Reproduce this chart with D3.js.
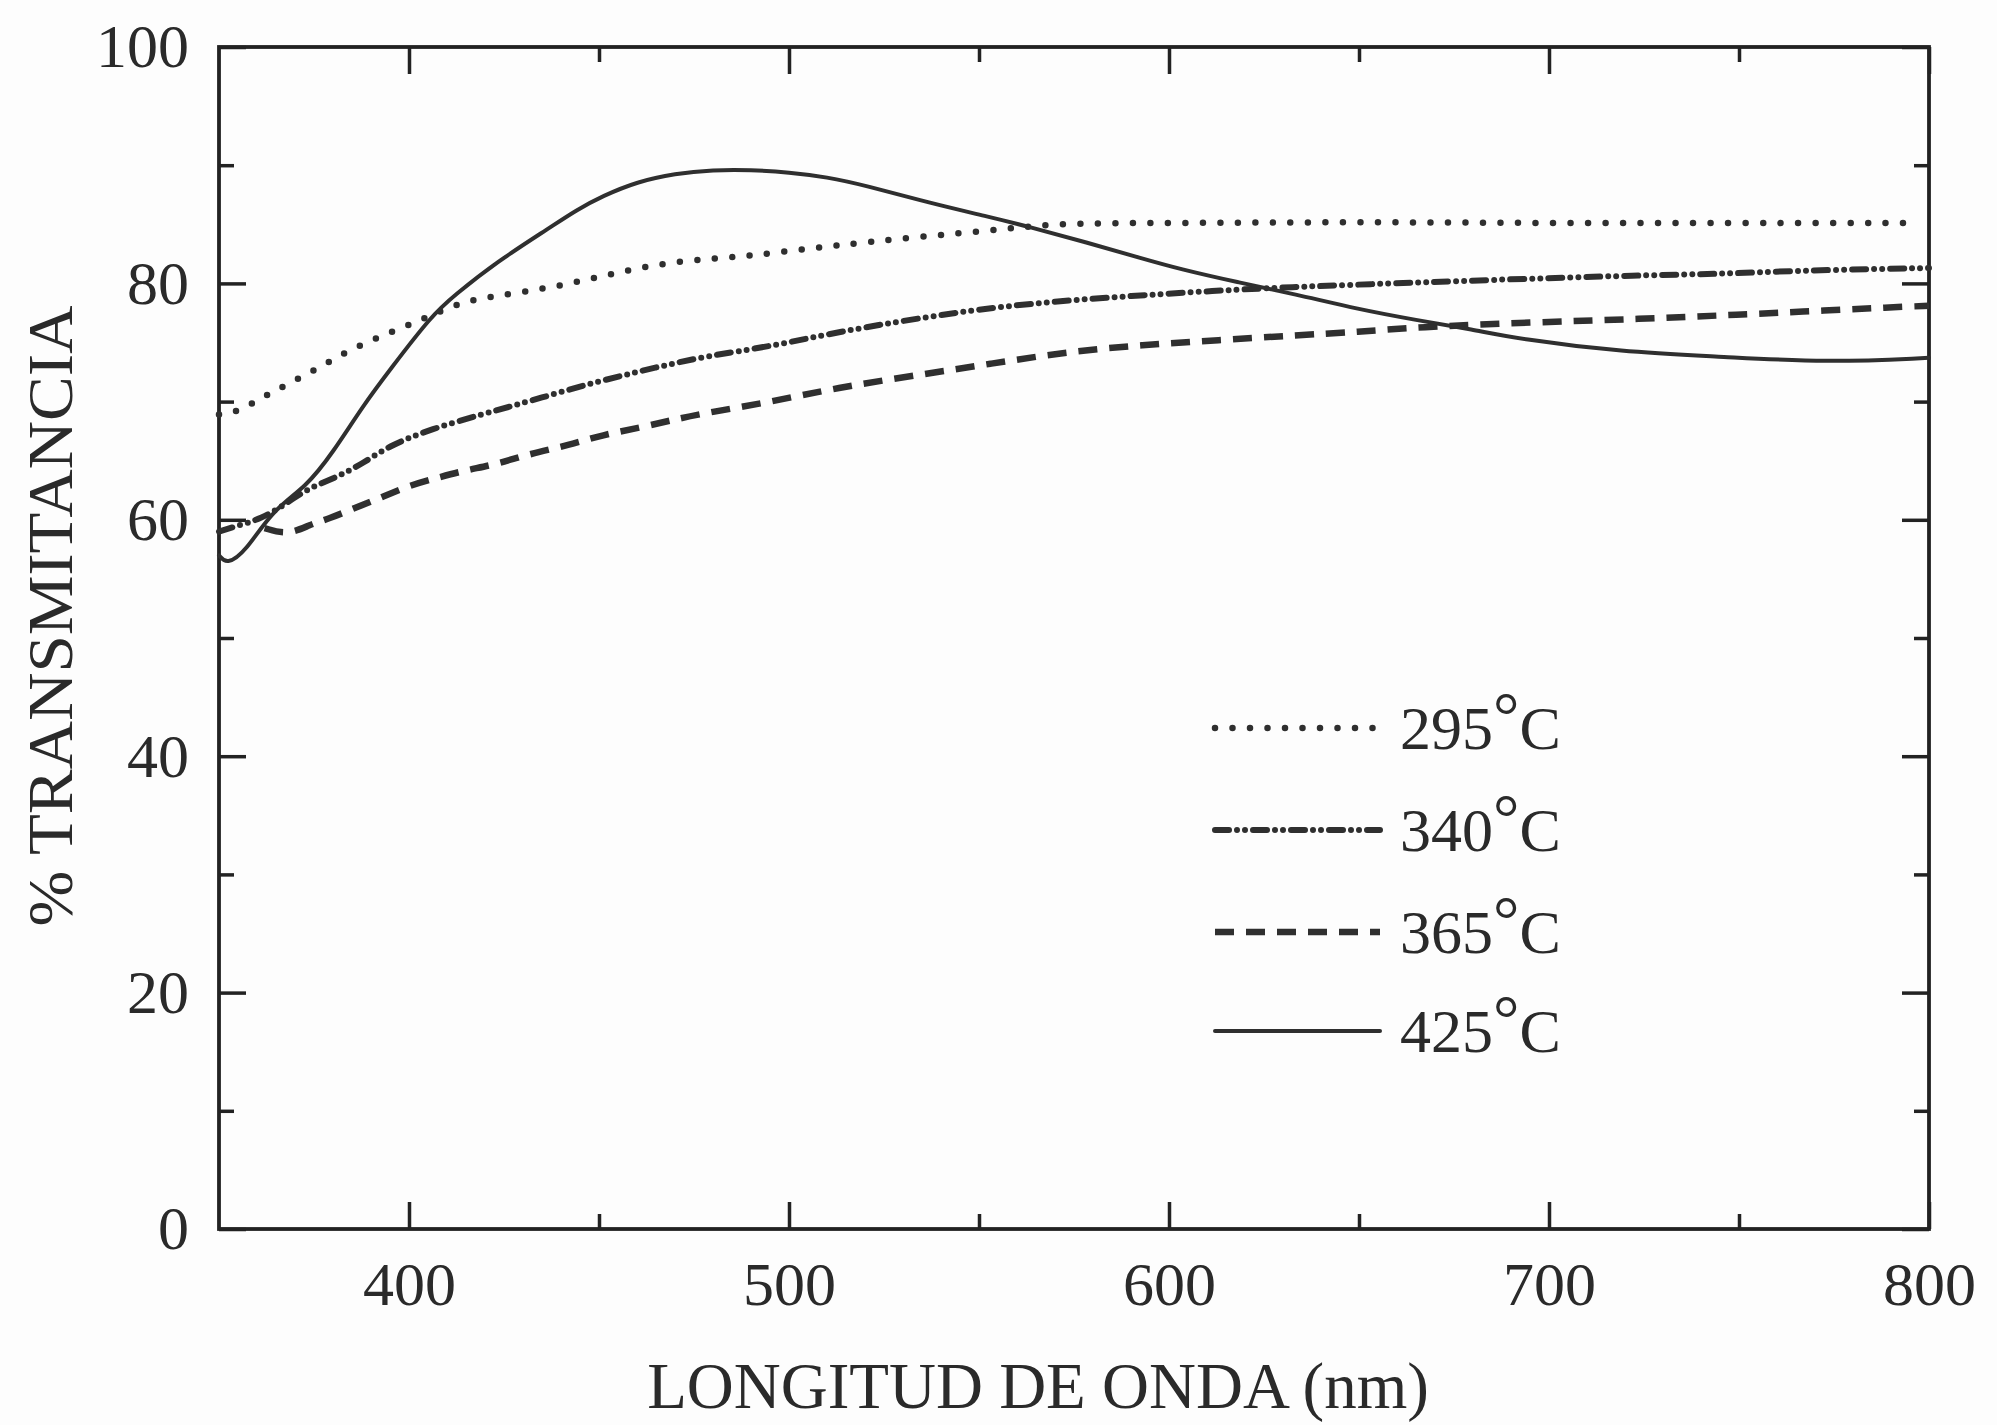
<!DOCTYPE html>
<html>
<head>
<meta charset="utf-8">
<script src="https://cdn.jsdelivr.net/npm/d3@7"></script>
<style>
  html, body { margin: 0; padding: 0; background: #fdfdfd; }
  svg { display: block; }
  text { font-family: "Liberation Serif", "Times New Roman", serif; fill: #2a2a2a; }
</style>
</head>
<body>
<svg id="chart" width="1997" height="1425"></svg>
<script>
// Optical transmittance (%) vs wavelength (nm) for films annealed at four temperatures

// 295 °C
const wavelength295 = [350, 355, 362, 369, 378, 387, 397, 406, 415, 429, 443, 457, 471, 485, 494, 512, 533, 557, 571, 600, 650, 700, 750, 796];
const trans295      = [68.9, 69.1, 70.5, 71.6, 73.2, 74.8, 76.1, 77.3, 78.6, 79.2, 80.0, 81.1, 81.9, 82.2, 82.5, 83.2, 83.9, 84.6, 85.1, 85.1, 85.2, 85.1, 85.1, 85.1];

// 340 °C
const wavelength340 = [350, 356, 361, 366, 373, 381, 388, 395, 406, 419, 428, 442, 451, 465, 479, 494, 513, 533, 556, 583, 613, 633, 650, 685, 725, 746, 766, 800];
const trans340      = [59.0, 59.6, 60.1, 61.0, 62.6, 63.6, 64.8, 66.3, 67.7, 68.9, 69.7, 71.0, 71.8, 72.9, 73.9, 74.6, 75.9, 77.0, 78.1, 78.8, 79.4, 79.7, 79.9, 80.3, 80.7, 80.8, 81.1, 81.3];

// 365 °C
const wavelength365 = [362, 368, 374, 379, 385, 392, 400, 408, 415, 423, 432, 442, 451, 461, 470, 479, 494, 513, 533, 553, 573, 593, 613, 633, 650, 665, 695, 725, 746, 766, 791, 800];
const trans365      = [59.3, 58.7, 59.6, 60.1, 60.9, 61.8, 62.9, 63.6, 64.2, 64.7, 65.6, 66.3, 67.2, 67.8, 68.5, 69.1, 69.9, 71.2, 72.2, 73.2, 74.2, 74.8, 75.2, 75.6, 75.9, 76.3, 76.7, 77.0, 77.3, 77.6, 78.0, 78.1];

// 425 °C
const wavelength425 = [350, 352, 357, 364, 373, 380, 388, 395, 406, 412, 423, 437, 444, 451, 460, 470, 480, 490, 500, 510, 520, 537, 553, 563, 578, 593, 603, 618, 633, 650, 665, 680, 692, 719, 746, 773, 800];
const trans425      = [57.0, 56.2, 57.3, 60.8, 62.8, 65.7, 69.7, 72.7, 77.3, 79.0, 81.8, 84.7, 86.2, 87.4, 88.6, 89.3, 89.6, 89.6, 89.4, 89.0, 88.3, 86.8, 85.6, 84.8, 83.5, 82.1, 81.2, 80.1, 79.1, 77.8, 76.9, 76.1, 75.3, 74.2, 73.8, 73.3, 73.7];

const seriesLabels = ["295", "340", "365", "425"];
const xMajorTicks = [400, 500, 600, 700, 800];
const xMinorTicks = [450, 550, 650, 750];
const yMajorTicks = [0, 20, 40, 60, 80, 100];
const yMinorTicks = [10, 30, 50, 70, 90];

const xTitle = "LONGITUD DE ONDA (nm)";
const yTitle = "% TRANSMITANCIA";

// line styles per series
const styles = {
  "295": { dash: "0 17.5", cap: "round", width: 6.5 },
  "340": { dash: "14 8 0 8 0 8", cap: "round", width: 6 },
  "365": { dash: "19 12", cap: "butt", width: 6.5 },
  "425": { dash: null, cap: "round", width: 4 }
};

const series = [
  { label: "295", wl: wavelength295, t: trans295 },
  { label: "340", wl: wavelength340, t: trans340 },
  { label: "365", wl: wavelength365, t: trans365 },
  { label: "425", wl: wavelength425, t: trans425 }
].map(s => ({ label: s.label, points: s.wl.map((w, i) => [w, s.t[i]]) }));

const svg = d3.select("#chart");
const plot = { left: 219, right: 1929, top: 47, bottom: 1229 };

const x = d3.scaleLinear().domain([350, 800]).range([plot.left, plot.right]);
const y = d3.scaleLinear().domain([0, 100]).range([plot.bottom, plot.top]);

const ink = "#222";
const curveInk = "#2f2f2f";
const tickFont = 62;

function styleAxis(g) {
  g.select(".domain").remove();
  g.selectAll(".tick line").attr("stroke", ink).attr("stroke-width", 3.5);
  g.selectAll("text")
    .attr("font-family", "'Liberation Serif', 'Times New Roman', serif")
    .attr("font-size", tickFont)
    .attr("fill", "#2a2a2a");
}

// bottom axis
svg.append("g").attr("transform", `translate(0,${plot.bottom})`)
  .call(d3.axisBottom(x).tickValues(xMajorTicks).tickSize(-27).tickPadding(32).tickFormat(d3.format("d")))
  .call(styleAxis);
svg.append("g").attr("transform", `translate(0,${plot.bottom})`)
  .call(d3.axisBottom(x).tickValues(xMinorTicks).tickSize(-15).tickFormat(""))
  .call(styleAxis);

// top axis
svg.append("g").attr("transform", `translate(0,${plot.top})`)
  .call(d3.axisTop(x).tickValues(xMajorTicks).tickSize(-27).tickFormat(""))
  .call(styleAxis);
svg.append("g").attr("transform", `translate(0,${plot.top})`)
  .call(d3.axisTop(x).tickValues(xMinorTicks).tickSize(-15).tickFormat(""))
  .call(styleAxis);

// left axis
svg.append("g").attr("transform", `translate(${plot.left},0)`)
  .call(d3.axisLeft(y).tickValues(yMajorTicks).tickSize(-27).tickPadding(30).tickFormat(d3.format("d")))
  .call(styleAxis);
svg.append("g").attr("transform", `translate(${plot.left},0)`)
  .call(d3.axisLeft(y).tickValues(yMinorTicks).tickSize(-15).tickFormat(""))
  .call(styleAxis);

// right axis
svg.append("g").attr("transform", `translate(${plot.right},0)`)
  .call(d3.axisRight(y).tickValues(yMajorTicks).tickSize(-27).tickFormat(""))
  .call(styleAxis);
svg.append("g").attr("transform", `translate(${plot.right},0)`)
  .call(d3.axisRight(y).tickValues(yMinorTicks).tickSize(-15).tickFormat(""))
  .call(styleAxis);

// frame
svg.append("rect")
  .attr("x", x(350)).attr("y", y(100))
  .attr("width", x(800) - x(350)).attr("height", y(0) - y(100))
  .attr("fill", "none").attr("stroke", ink).attr("stroke-width", 3.8);

// curves
const line = d3.line()
  .x(d => x(d[0]))
  .y(d => y(d[1]))
  .curve(d3.curveBasis);

svg.append("g").selectAll("path")
  .data(series)
  .join("path")
  .attr("d", d => line(d.points))
  .attr("fill", "none")
  .attr("stroke", curveInk)
  .attr("stroke-width", d => styles[d.label].width)
  .attr("stroke-linecap", d => styles[d.label].cap)
  .attr("stroke-linejoin", "round")
  .attr("stroke-dasharray", d => styles[d.label].dash);

// legend
const legendX0 = 1215, legendX1 = 1380, legendTextX = 1400;
const legendRows = [728, 830, 932, 1031];
const legend = svg.append("g");
seriesLabels.forEach((lab, i) => {
  const st = styles[lab];
  legend.append("line")
    .attr("x1", legendX0).attr("x2", legendX1)
    .attr("y1", legendRows[i]).attr("y2", legendRows[i])
    .attr("stroke", curveInk)
    .attr("stroke-width", st.width)
    .attr("stroke-linecap", st.cap)
    .attr("stroke-dasharray", st.dash);
  const t = legend.append("text")
    .attr("x", legendTextX).attr("y", legendRows[i] + 21)
    .attr("font-size", 62);
  t.append("tspan").text(lab);
  t.append("tspan").attr("dy", -11).attr("font-size", 66).text("°");
  t.append("tspan").attr("dy", 11).text("C");
});

// axis titles
svg.append("text")
  .attr("x", 1038)
  .attr("y", 1408)
  .attr("text-anchor", "middle")
  .attr("font-size", 65)
  .text(xTitle);

svg.append("text")
  .attr("transform", "translate(72,616) rotate(-90)")
  .attr("text-anchor", "middle")
  .attr("font-size", 64)
  .attr("textLength", 621)
  .attr("lengthAdjust", "spacingAndGlyphs")
  .text(yTitle);
</script>
</body>
</html>
